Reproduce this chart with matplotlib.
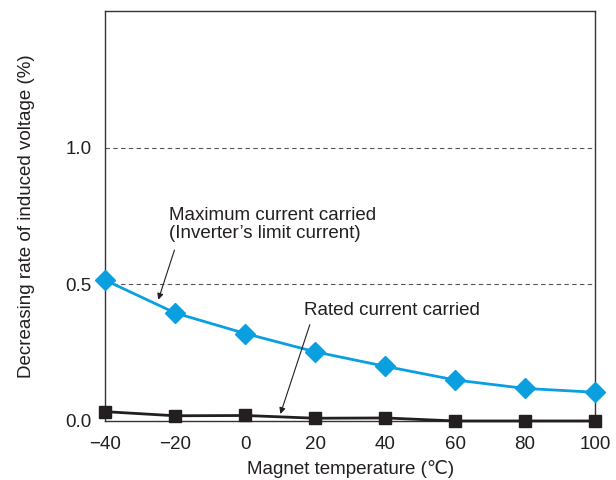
import matplotlib
matplotlib.use("Agg")
from matplotlib import pyplot as plt

# magnet temperature (deg C) and decreasing rate of induced voltage (%)
temperature = [-40, -20, 0, 20, 40, 60, 80, 100]
max_current = [0.515, 0.395, 0.32, 0.253, 0.20, 0.15, 0.119, 0.105]
rated_current = [0.034, 0.019, 0.02, 0.01, 0.011, 0.0, 0.0, 0.0]
y_ticks = [0.0, 0.5, 1.0]

plt.rcParams['font.family'] = ['Liberation Sans', 'DejaVu Sans']
fs = 13.5

fig = plt.figure(figsize=(6.16, 4.8), dpi=100)
ax = fig.add_axes([0.171, 0.123, 0.795, 0.854])

# dashed reference lines at 0.5 and 1.0
for yv in y_ticks[1:]:
    ax.axhline(yv, color='#555555', lw=0.8, ls=(0, (4, 3)), zorder=1)

ax.plot(temperature, max_current, color='#0aa0e0', lw=2, marker='D',
        ms=10, clip_on=False, zorder=3)
ax.plot(temperature, rated_current, color='#231f20', lw=2, marker='s',
        ms=9, clip_on=False, zorder=3)

ax.set_xlim(-40, 100)
ax.set_ylim(0, 1.5)
ax.set_xticks(temperature)
ax.set_xticklabels(['\u221240', '\u221220', '0', '20', '40', '60', '80', '100'])
ax.set_yticks(y_ticks)
ax.set_yticklabels(['0.0', '0.5', '1.0'])
ax.tick_params(axis='x', length=0, labelsize=fs, colors='#231f20', pad=11)
ax.tick_params(axis='y', length=0, labelsize=fs, colors='#231f20', pad=10)
for s in ax.spines.values():
    s.set_color('#333333')
    s.set_linewidth(1)

ax.set_xlabel('Magnet temperature (\u2103)', fontsize=fs, color='#231f20',
              labelpad=5)
ax.set_ylabel('Decreasing rate of induced voltage (%)', fontsize=fs,
              color='#231f20')
ax.yaxis.set_label_coords(-0.143, 0.5)

# labels with arrows
ax.annotate('', xy=(-25.1, 0.434), xytext=(-20, 0.635),
            arrowprops=dict(arrowstyle='-|>', color='#231f20', lw=0.8,
                            mutation_scale=9))
ax.text(-21.7, 0.72, 'Maximum current carried\n(Inverter\u2019s limit current)',
        fontsize=fs, color='#231f20', va='center', ha='left',
        linespacing=1.08)
ax.annotate('', xy=(9.8, 0.016), xytext=(18.7, 0.362),
            arrowprops=dict(arrowstyle='-|>', color='#231f20', lw=0.8,
                            mutation_scale=9))
ax.text(16.7, 0.405, 'Rated current carried', fontsize=fs,
        color='#231f20', va='center', ha='left')

fig.savefig('out.png', dpi=100)
